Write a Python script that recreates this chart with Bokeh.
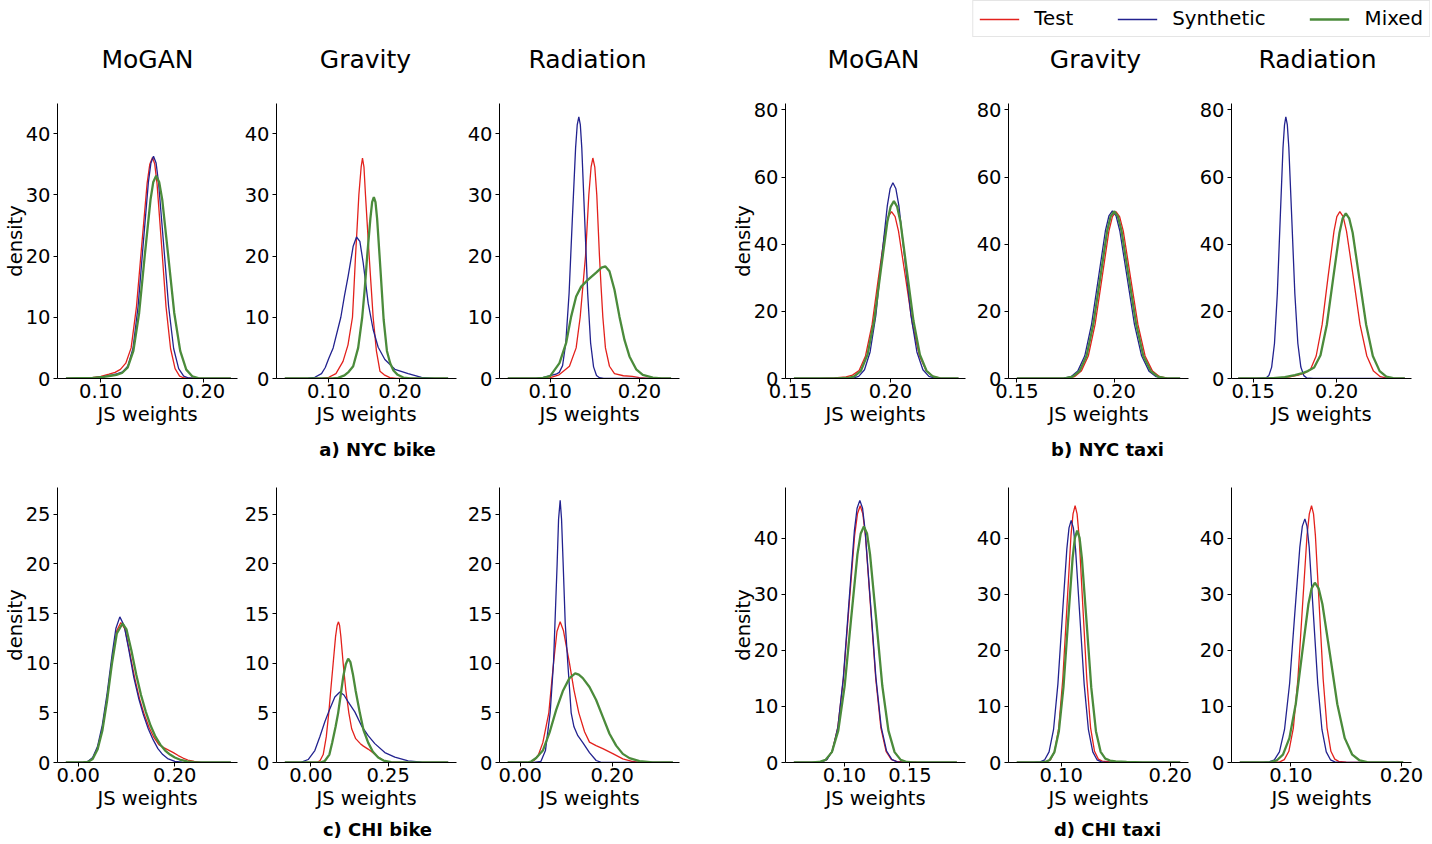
from bokeh.plotting import figure
from bokeh.models import Range1d, FixedTicker, PrintfTickFormatter, Legend, LegendItem
from bokeh.core.properties import value
from bokeh.layouts import column, row
from bokeh.embed import file_html
from bokeh.resources import INLINE

# ---------------- data (x = JS weight, y = density) ----------------
nyc_bike_mogan_test = [(0.066,0),(0.090,0.1),(0.100,0.35),(0.108,0.7),(0.1139,1.0),(0.1191,1.5),(0.1243,2.5),(0.1295,5.0),(0.1347,11.7),(0.1399,21.9),(0.1451,31.9),(0.1477,35.0),(0.1503,36.1),(0.1525,35.0),(0.1547,31.9),(0.1591,21.9),(0.1635,11.7),(0.1679,4.9),(0.1723,1.6),(0.1767,0.4),(0.1811,0.08),(0.19,0),(0.2266,0)]
nyc_bike_mogan_synthetic = [(0.066,0),(0.092,0.1),(0.103,0.3),(0.1113,0.6),(0.1163,0.8),(0.1213,1.1),(0.1263,2.0),(0.1313,4.9),(0.1363,11.8),(0.1413,22.0),(0.1463,32.0),(0.1488,35.2),(0.1513,36.3),(0.1538,35.2),(0.1562,32.0),(0.1611,22.0),(0.166,11.8),(0.1709,4.9),(0.1758,1.6),(0.1807,0.4),(0.1856,0.08),(0.195,0),(0.2266,0)]
nyc_bike_mogan_mixed = [(0.066,0),(0.092,0.08),(0.103,0.25),(0.1096,0.45),(0.1151,0.6),(0.1206,0.9),(0.1262,1.8),(0.1317,4.5),(0.1373,10.7),(0.1428,20.1),(0.1484,29.2),(0.1511,32.1),(0.1539,33.1),(0.1568,32.1),(0.1598,29.2),(0.1656,20.1),(0.1715,10.7),(0.1773,4.5),(0.1832,1.45),(0.189,0.37),(0.1949,0.07),(0.205,0),(0.2266,0)]

nyc_bike_gravity_test = [(0.038,0),(0.09,0),(0.1,0.2),(0.11,0.8),(0.12,2.8),(0.127,5.5),(0.1333,10),(0.1355,15),(0.1376,20),(0.14,25),(0.1423,30),(0.1455,34.5),(0.1474,36),(0.1495,34.5),(0.1516,30),(0.1542,25),(0.1568,20),(0.1596,15),(0.1624,10),(0.167,4.5),(0.172,1.2),(0.178,0.6),(0.186,0.15),(0.195,0),(0.268,0)]
nyc_bike_gravity_synthetic = [(0.038,0),(0.065,0),(0.0709,0.05),(0.0803,0.2),(0.0897,0.8),(0.095,1.8),(0.1,3.3),(0.1061,5),(0.1169,10),(0.122,13.5),(0.1272,16.7),(0.1343,21.6),(0.139,23.1),(0.1437,22.4),(0.1484,18.9),(0.1554,12.3),(0.1624,8),(0.1695,5.1),(0.1789,3.1),(0.193,1.5),(0.2117,0.8),(0.2305,0.2),(0.2493,0.03),(0.268,0)]
nyc_bike_gravity_mixed = [(0.038,0),(0.105,0),(0.113,0.1),(0.122,0.5),(0.128,1.1),(0.1343,2),(0.1413,5),(0.147,10),(0.1507,14.8),(0.154,20),(0.1585,26.1),(0.161,28.8),(0.1634,29.6),(0.1657,28.8),(0.168,26.1),(0.1726,18),(0.1772,9.6),(0.1818,4.5),(0.1864,2.5),(0.191,1.3),(0.197,0.6),(0.205,0.15),(0.215,0),(0.268,0)]

nyc_bike_radiation_test = [(0.0526,0),(0.09,0),(0.1,0.15),(0.11,0.6),(0.1216,2),(0.1291,5),(0.1336,10),(0.1366,15),(0.1396,20),(0.1433,30),(0.1458,34.5),(0.1478,36),(0.15,34.5),(0.1522,30),(0.1552,20),(0.157,15),(0.159,10),(0.1619,5),(0.1664,2),(0.172,0.8),(0.182,0.45),(0.192,0.35),(0.2,0.15),(0.21,0.03),(0.22,0),(0.2354,0)]
nyc_bike_radiation_synthetic = [(0.0526,0),(0.084,0),(0.092,0.15),(0.1,0.45),(0.1066,0.7),(0.1102,1.0),(0.1139,2.1),(0.1175,5.8),(0.1212,13.9),(0.1248,25.9),(0.1285,37.7),(0.1303,41.4),(0.1321,42.7),(0.1338,41.4),(0.1354,37.7),(0.1387,25.9),(0.142,13.9),(0.1453,5.8),(0.1486,1.9),(0.1519,0.5),(0.1552,0.12),(0.16,0.02),(0.165,0),(0.2354,0)]
nyc_bike_radiation_mixed = [(0.0526,0),(0.085,0),(0.092,0.1),(0.1,0.4),(0.1104,2.5),(0.1179,5.8),(0.1235,10.1),(0.1291,13.4),(0.1347,15.0),(0.1422,16.1),(0.1515,17.3),(0.1575,18.1),(0.1619,18.3),(0.1664,17.5),(0.172,14.5),(0.1776,10.1),(0.1832,6.3),(0.1888,3.6),(0.1963,1.5),(0.2037,0.6),(0.2149,0.15),(0.225,0.02),(0.2354,0)]

nyc_taxi_mogan_test = [(0.1517,0),(0.16,0.02),(0.165,0.05),(0.172,0.15),(0.1778,0.45),(0.181,1.0),(0.1843,2.4),(0.1875,6.7),(0.1908,16.1),(0.194,30.1),(0.1973,43.9),(0.1989,48.2),(0.2005,49.7),(0.2023,48.2),(0.204,43.9),(0.2075,30.1),(0.211,16.1),(0.2145,6.7),(0.218,2.2),(0.2215,0.55),(0.225,0.11),(0.23,0.01),(0.234,0)]
nyc_taxi_mogan_synthetic = [(0.1517,0),(0.175,0),(0.1813,0.13),(0.1841,0.65),(0.187,2.6),(0.1898,7.9),(0.1927,18.9),(0.1955,35.4),(0.1984,51.4),(0.1998,56.5),(0.2012,58.3),(0.2027,56.5),(0.2042,51.4),(0.2072,35.4),(0.2102,18.9),(0.2132,7.9),(0.2162,2.6),(0.2192,0.65),(0.2222,0.13),(0.228,0),(0.234,0)]
nyc_taxi_mogan_mixed = [(0.1517,0),(0.172,0),(0.1786,0.15),(0.1819,0.6),(0.1852,2.3),(0.1885,7.1),(0.1918,17.1),(0.1951,32.0),(0.1984,46.6),(0.2001,51.2),(0.2017,52.8),(0.2033,51.2),(0.205,46.6),(0.2082,32.0),(0.2115,17.1),(0.2147,7.1),(0.218,2.3),(0.2212,0.6),(0.2245,0.12),(0.229,0),(0.234,0)]

nyc_taxi_gravity_test = [(0.15,0),(0.167,0),(0.176,0.11),(0.1796,0.55),(0.1831,2.2),(0.1867,6.7),(0.1902,16.1),(0.1938,30.1),(0.1973,43.9),(0.1991,48.2),(0.2009,49.7),(0.2028,48.2),(0.2047,43.9),(0.2084,30.1),(0.2122,16.1),(0.2159,6.7),(0.2197,2.2),(0.2234,0.55),(0.2272,0.11),(0.232,0),(0.2339,0)]
nyc_taxi_gravity_synthetic = [(0.15,0),(0.165,0),(0.1742,0.11),(0.1778,0.55),(0.1813,2.2),(0.1849,6.75),(0.1884,16.2),(0.192,30.3),(0.1955,44.0),(0.1973,48.4),(0.1991,49.9),(0.201,48.4),(0.2029,44.0),(0.2066,30.3),(0.2104,16.2),(0.2141,6.75),(0.2179,2.2),(0.2216,0.55),(0.2254,0.11),(0.23,0),(0.2339,0)]
nyc_taxi_gravity_mixed = [(0.15,0),(0.166,0),(0.1751,0.11),(0.1787,0.55),(0.1822,2.2),(0.1858,6.7),(0.1893,16.2),(0.1929,30.2),(0.1964,43.9),(0.1982,48.3),(0.2,49.8),(0.2019,48.3),(0.2038,43.9),(0.2075,30.2),(0.2113,16.2),(0.215,6.7),(0.2188,2.2),(0.2225,0.55),(0.2263,0.11),(0.231,0),(0.2339,0)]

nyc_taxi_radiation_test = [(0.141,0),(0.155,0),(0.165,0.15),(0.172,0.5),(0.177,1.0),(0.1807,1.6),(0.1843,2.6),(0.1878,6.7),(0.1914,16.1),(0.1949,30.1),(0.1985,43.9),(0.2002,48.2),(0.202,49.7),(0.204,48.2),(0.206,43.9),(0.2101,30.1),(0.2141,16.1),(0.2182,6.7),(0.2222,2.2),(0.2263,0.55),(0.2303,0.11),(0.236,0),(0.241,0)]
nyc_taxi_radiation_synthetic = [(0.141,0),(0.152,0),(0.1577,0.17),(0.1594,0.86),(0.1611,3.4),(0.1628,10.5),(0.1645,25.3),(0.1662,47.2),(0.1679,68.7),(0.1688,75.5),(0.1696,77.9),(0.1705,75.5),(0.1714,68.7),(0.1732,47.2),(0.175,25.3),(0.1768,10.5),(0.1786,3.4),(0.1804,0.86),(0.1822,0.17),(0.186,0),(0.241,0)]
nyc_taxi_radiation_mixed = [(0.141,0),(0.155,0),(0.162,0.1),(0.169,0.4),(0.175,1.0),(0.179,1.5),(0.1828,2.2),(0.1866,3.3),(0.1904,6.9),(0.1942,16.0),(0.198,29.8),(0.2018,43.4),(0.2037,47.7),(0.2056,49.2),(0.2076,47.7),(0.2097,43.4),(0.2137,29.8),(0.2178,16.0),(0.2218,6.7),(0.2259,2.2),(0.2299,0.55),(0.234,0.11),(0.239,0),(0.241,0)]

chi_bike_mogan_test = [(-0.0255,0),(0.01,0),(0.02,0.08),(0.03,0.4),(0.04,1.4),(0.05,3.4),(0.06,6.6),(0.07,10.3),(0.08,13.3),(0.0883,14.1),(0.097,13.4),(0.107,11.0),(0.117,8.5),(0.127,6.4),(0.137,4.8),(0.147,3.5),(0.157,2.5),(0.167,1.8),(0.177,1.5),(0.187,1.25),(0.197,1.0),(0.207,0.7),(0.217,0.45),(0.227,0.25),(0.24,0.1),(0.255,0.02),(0.27,0),(0.316,0)]
chi_bike_mogan_synthetic = [(-0.0255,0),(0.01,0),(0.02,0.1),(0.03,0.5),(0.04,1.6),(0.05,3.8),(0.06,7.0),(0.07,10.8),(0.078,13.5),(0.0862,14.67),(0.095,13.8),(0.105,11.3),(0.115,8.6),(0.125,6.5),(0.135,4.8),(0.145,3.4),(0.155,2.3),(0.165,1.4),(0.175,0.8),(0.185,0.4),(0.2,0.12),(0.215,0.03),(0.23,0),(0.316,0)]
chi_bike_mogan_mixed = [(-0.0255,0),(0.01,0),(0.02,0.06),(0.03,0.35),(0.04,1.3),(0.05,3.2),(0.06,6.3),(0.07,10.0),(0.08,13.0),(0.0917,14.0),(0.1,13.4),(0.11,11.3),(0.12,8.9),(0.13,6.8),(0.14,5.1),(0.15,3.7),(0.16,2.6),(0.17,1.8),(0.18,1.2),(0.19,0.8),(0.2,0.5),(0.21,0.3),(0.225,0.12),(0.24,0.04),(0.26,0),(0.316,0)]

chi_bike_gravity_test = [(-0.084,0),(0.02,0),(0.03,0.2),(0.04,0.8),(0.05,2.6),(0.058,5),(0.065,7.5),(0.0722,10),(0.08,12.7),(0.085,13.8),(0.0894,14.17),(0.093,13.8),(0.097,12.7),(0.1045,10),(0.113,7.3),(0.1228,5),(0.132,3.4),(0.145,2.4),(0.16,1.9),(0.17,1.65),(0.185,1.35),(0.2,1.0),(0.215,0.6),(0.23,0.3),(0.24,0.15),(0.255,0.02),(0.27,0),(0.444,0)]
chi_bike_gravity_synthetic = [(-0.084,0),(-0.0302,0.03),(-0.0086,0.3),(0.0129,1.2),(0.0291,2.6),(0.0453,4.1),(0.0614,5.4),(0.0776,6.6),(0.0938,7.1),(0.107,6.8),(0.1207,6.1),(0.1422,5.1),(0.1638,3.7),(0.1853,2.7),(0.2069,1.9),(0.2392,1.0),(0.2716,0.54),(0.3147,0.17),(0.3578,0.03),(0.38,0),(0.444,0)]
chi_bike_gravity_mixed = [(-0.084,0),(0.03,0),(0.045,0.15),(0.06,0.8),(0.069,2),(0.08,3.6),(0.0884,5),(0.097,6.9),(0.105,8.7),(0.113,9.9),(0.1207,10.46),(0.128,10.1),(0.136,8.9),(0.145,7.2),(0.1584,5),(0.17,3.3),(0.1853,2),(0.2,1.1),(0.2177,0.5),(0.235,0.2),(0.26,0.04),(0.3,0),(0.444,0)]

chi_bike_radiation_test = [(-0.027,0),(0.02,0),(0.03,0.2),(0.04,0.8),(0.0493,2),(0.0623,5),(0.0725,10),(0.08,13.2),(0.087,14.17),(0.094,13.3),(0.1,11.8),(0.1072,10),(0.117,7.3),(0.1275,5),(0.14,3.1),(0.1507,2.05),(0.165,1.7),(0.1797,1.4),(0.2014,0.9),(0.2232,0.37),(0.2449,0.1),(0.26,0),(0.332,0)]
chi_bike_radiation_synthetic = [(-0.027,0),(0.03,0),(0.045,0.1),(0.055,1.2),(0.0652,5),(0.0725,10),(0.0804,20),(0.0835,24.5),(0.087,26.4),(0.09,24.5),(0.0935,20),(0.098,14),(0.1036,10),(0.1109,5),(0.117,3.6),(0.1254,2.7),(0.1362,2.0),(0.1507,1.0),(0.1652,0.2),(0.175,0.03),(0.185,0),(0.332,0)]
chi_bike_radiation_mixed = [(-0.027,0),(0.015,0),(0.0239,0.1),(0.0348,0.45),(0.0493,1.2),(0.0638,3.0),(0.0783,5.3),(0.0928,7.2),(0.1072,8.5),(0.1196,8.98),(0.1275,8.85),(0.1362,8.5),(0.1507,7.6),(0.1652,6.3),(0.1797,4.6),(0.1942,2.9),(0.2087,1.7),(0.2232,0.87),(0.2377,0.44),(0.2594,0.13),(0.2884,0.02),(0.31,0),(0.332,0)]

chi_taxi_mogan_test = [(0.0612,0),(0.077,0),(0.0819,0.1),(0.0862,0.51),(0.0905,2.0),(0.0948,6.2),(0.0991,14.9),(0.1034,27.8),(0.1077,40.5),(0.1099,44.4),(0.112,45.85),(0.114,44.4),(0.116,40.5),(0.1199,27.8),(0.1239,14.9),(0.1278,6.2),(0.1318,2.0),(0.1357,0.55),(0.1397,0.2),(0.145,0.1),(0.155,0.05),(0.165,0.02),(0.186,0)]
chi_taxi_mogan_synthetic = [(0.0612,0),(0.078,0),(0.0823,0.1),(0.0865,0.52),(0.0907,2.05),(0.0949,6.3),(0.0991,15.2),(0.1033,28.4),(0.1075,41.3),(0.1096,45.4),(0.1117,46.8),(0.1138,45.4),(0.1158,41.3),(0.1199,28.4),(0.124,15.2),(0.1281,6.3),(0.1322,2.05),(0.1363,0.52),(0.1404,0.1),(0.145,0),(0.186,0)]
chi_taxi_mogan_mixed = [(0.0612,0),(0.075,0),(0.0805,0.09),(0.0854,0.47),(0.0903,1.85),(0.0952,5.7),(0.1001,13.7),(0.105,25.6),(0.1099,37.2),(0.1124,40.9),(0.1148,42.15),(0.1172,40.9),(0.1195,37.2),(0.1242,25.6),(0.1289,13.7),(0.1336,5.7),(0.1383,1.85),(0.143,0.47),(0.1477,0.09),(0.153,0),(0.186,0)]

chi_taxi_gravity_test = [(0.0593,0),(0.08,0),(0.0865,0.1),(0.0903,0.51),(0.094,2.0),(0.0978,6.2),(0.1015,14.9),(0.1053,27.8),(0.109,40.5),(0.1109,44.4),(0.1128,45.85),(0.1146,44.4),(0.1164,40.5),(0.1199,27.8),(0.1235,14.9),(0.127,6.2),(0.1306,2.0),(0.1341,0.6),(0.1377,0.25),(0.145,0.1),(0.16,0.03),(0.2092,0)]
chi_taxi_gravity_synthetic = [(0.0593,0),(0.075,0),(0.0808,0.1),(0.0849,0.48),(0.0889,1.9),(0.093,5.85),(0.097,14.0),(0.1011,26.2),(0.1052,38.1),(0.1072,41.9),(0.1092,43.2),(0.1112,41.9),(0.1132,38.1),(0.1171,26.2),(0.1211,14.0),(0.125,5.85),(0.129,1.9),(0.1329,0.48),(0.1369,0.1),(0.142,0),(0.2092,0)]
chi_taxi_gravity_mixed = [(0.0593,0),(0.08,0),(0.0853,0.09),(0.0895,0.46),(0.0937,1.8),(0.0979,5.6),(0.1021,13.4),(0.1063,25.1),(0.1105,36.5),(0.1126,40.1),(0.1147,41.4),(0.1169,40.1),(0.119,36.5),(0.1233,25.1),(0.1276,13.4),(0.1319,5.6),(0.1362,1.9),(0.1405,0.7),(0.1448,0.35),(0.15,0.2),(0.16,0.1),(0.175,0.03),(0.19,0),(0.2092,0)]

chi_taxi_radiation_test = [(0.0539,0),(0.085,0),(0.09,0.1),(0.0941,0.51),(0.0982,2.0),(0.1023,6.2),(0.1064,14.9),(0.1105,27.8),(0.1146,40.5),(0.1167,44.4),(0.1187,45.85),(0.1205,44.4),(0.1222,40.5),(0.1257,27.8),(0.1292,14.9),(0.1327,6.2),(0.1362,2.0),(0.1397,0.6),(0.1432,0.2),(0.15,0.05),(0.16,0),(0.2015,0)]
chi_taxi_radiation_synthetic = [(0.0539,0),(0.075,0),(0.0805,0.1),(0.0851,0.48),(0.0897,1.9),(0.0943,5.9),(0.0989,14.1),(0.1035,26.4),(0.1081,38.4),(0.1104,42.2),(0.1127,43.5),(0.1146,42.2),(0.1166,38.4),(0.1204,26.4),(0.1243,14.1),(0.1281,5.9),(0.132,1.9),(0.1358,0.48),(0.1397,0.1),(0.145,0),(0.2015,0)]
chi_taxi_radiation_mixed = [(0.0539,0),(0.075,0),(0.0814,0.07),(0.0872,0.36),(0.0929,1.4),(0.0987,4.35),(0.1044,10.4),(0.1102,19.5),(0.1159,28.3),(0.1188,31.1),(0.1217,32.1),(0.1251,31.1),(0.1285,28.3),(0.1352,19.5),(0.142,10.4),(0.1487,4.35),(0.1555,1.4),(0.1622,0.36),(0.169,0.07),(0.176,0),(0.2015,0)]

series_names = ["Test", "Synthetic", "Mixed"]
method_titles = ["MoGAN", "Gravity", "Radiation"]
group_captions = ["a) NYC bike", "b) NYC taxi", "c) CHI bike", "d) CHI taxi"]

# ---------------- styling / layout ----------------
FONT = "DejaVu Sans"
COLORS = {"Test": "#e3211c", "Synthetic": "#22228f", "Mixed": "#4b8b3b"}
WIDTHS = {"Test": 1.3, "Synthetic": 1.3, "Mixed": 2.3}

FW, FH = 180, 275
LEFT_B = [57, 34, 34, 57, 34, 34]
RIGHT_B = [4, 8, 49, 8, 8, 23]
W = sum(LEFT_B) + sum(RIGHT_B) + 6 * FW
frame_left = []
_x = 0
for _c in range(6):
    _x += LEFT_B[_c]
    frame_left.append(_x)
    _x += FW + RIGHT_B[_c]

HDR_H = 82
CAP1_H, CAP2_H = 45, 25

rows_cfg = [
    dict(top=21, bottom=54, groups=[
        dict(curves=[(nyc_bike_mogan_test, nyc_bike_mogan_synthetic, nyc_bike_mogan_mixed),
                     (nyc_bike_gravity_test, nyc_bike_gravity_synthetic, nyc_bike_gravity_mixed),
                     (nyc_bike_radiation_test, nyc_bike_radiation_synthetic, nyc_bike_radiation_mixed)],
             xr=[(0.0578, 0.2331), (0.0263, 0.2798), (0.0433, 0.2448)],
             xt=[[0.10, 0.20], [0.10, 0.20], [0.10, 0.20]],
             yr=(0, 44.9), yt=[0, 10, 20, 30, 40]),
        dict(curves=[(nyc_taxi_mogan_test, nyc_taxi_mogan_synthetic, nyc_taxi_mogan_mixed),
                     (nyc_taxi_gravity_test, nyc_taxi_gravity_synthetic, nyc_taxi_gravity_mixed),
                     (nyc_taxi_radiation_test, nyc_taxi_radiation_synthetic, nyc_taxi_radiation_mixed)],
             xr=[(0.1475, 0.2375), (0.1457, 0.2382), (0.137, 0.245)],
             xt=[[0.15, 0.20], [0.15, 0.20], [0.15, 0.20]],
             yr=(0, 81.9), yt=[0, 20, 40, 60, 80]),
    ]),
    dict(top=10, bottom=54, groups=[
        dict(curves=[(chi_bike_mogan_test, chi_bike_mogan_synthetic, chi_bike_mogan_mixed),
                     (chi_bike_gravity_test, chi_bike_gravity_synthetic, chi_bike_gravity_mixed),
                     (chi_bike_radiation_test, chi_bike_radiation_synthetic, chi_bike_radiation_mixed)],
             xr=[(-0.0428, 0.3297), (-0.111, 0.4709), (-0.0449, 0.3464)],
             xt=[[0.00, 0.20], [0.00, 0.25], [0.00, 0.20]],
             yr=(0, 27.7), yt=[0, 5, 10, 15, 20, 25]),
        dict(curves=[(chi_taxi_mogan_test, chi_taxi_mogan_synthetic, chi_taxi_mogan_mixed),
                     (chi_taxi_gravity_test, chi_taxi_gravity_synthetic, chi_taxi_gravity_mixed),
                     (chi_taxi_radiation_test, chi_taxi_radiation_synthetic, chi_taxi_radiation_mixed)],
             xr=[(0.0548, 0.1926), (0.0517, 0.2168), (0.0464, 0.209)],
             xt=[[0.10, 0.15], [0.10, 0.20], [0.10, 0.20]],
             yr=(0, 49.1), yt=[0, 10, 20, 30, 40]),
    ]),
]


def style_axes(p, ylabel):
    for ax in (p.xaxis[0], p.yaxis[0]):
        ax.axis_line_color = "black"
        ax.axis_line_width = 1
        ax.major_tick_line_color = "black"
        ax.major_tick_line_width = 1
        ax.major_tick_in = 0
        ax.major_tick_out = 4
        ax.minor_tick_line_color = None
        ax.major_label_text_font = FONT
        ax.major_label_text_font_size = "19.5px"
        ax.major_label_text_color = "black"
        ax.axis_label_text_font = FONT
        ax.axis_label_text_font_size = "19.5px"
        ax.axis_label_text_font_style = "normal"
        ax.axis_label_text_color = "black"
    xa = p.xaxis[0]
    xa.axis_label = "JS weights"
    xa.major_label_standoff = 1
    xa.axis_label_standoff = 2
    ya = p.yaxis[0]
    ya.major_label_standoff = 3
    ya.axis_label_standoff = -4
    if ylabel:
        ya.axis_label = "density"


def make_panel(curves, xr, xt, yr, yt, col, top, bottom, ylabel):
    p = figure(frame_width=FW, frame_height=FH,
               x_range=Range1d(*xr), y_range=Range1d(*yr),
               min_border_left=LEFT_B[col], min_border_right=RIGHT_B[col],
               min_border_top=top, min_border_bottom=bottom,
               output_backend="svg", toolbar_location=None, title=None,
               outline_line_color=None, background_fill_color="white",
               border_fill_color="white")
    p.xgrid.visible = False
    p.ygrid.visible = False
    for name, pts in zip(series_names, curves):
        p.line([a for a, _ in pts], [b for _, b in pts],
               line_color=COLORS[name], line_width=WIDTHS[name])
    style_axes(p, ylabel)
    p.xaxis[0].ticker = FixedTicker(ticks=xt)
    p.xaxis[0].formatter = PrintfTickFormatter(format="%.2f")
    p.yaxis[0].ticker = FixedTicker(ticks=yt)
    return p


def strip(height):
    s = figure(width=W, height=height, x_range=Range1d(0, W), y_range=Range1d(height, 0),
               x_axis_type=None, y_axis_type=None, output_backend="svg",
               toolbar_location=None, min_border=0, outline_line_color=None, title=None,
               background_fill_color="white", border_fill_color="white")
    return s


# header: legend + column titles
hdr = strip(HDR_H)
hdr.text(x=[fl + FW / 2 for fl in frame_left], y=[59] * 6, text=method_titles * 2,
         text_align="center", text_baseline="middle", text_font=value(FONT),
         text_font_size="25px", text_color="black")
items = []
for name in series_names:
    r = hdr.line(x=[-100, -90], y=[-100, -90], line_color=COLORS[name], line_width=WIDTHS[name])
    items.append(LegendItem(label=name, renderers=[r]))
legend = Legend(items=items, orientation="horizontal", location="top_right",
                label_text_font=FONT, label_text_font_size="19.8px", label_text_color="black",
                glyph_width=40, glyph_height=20, label_standoff=15, spacing=44,
                padding=6, margin=0, border_line_color="#cccccc", border_line_width=1,
                background_fill_color="white", background_fill_alpha=1.0)
hdr.add_layout(legend)

cap_x = [frame_left[1] + FW / 2 + 12, frame_left[4] + FW / 2 + 12]

cap1 = strip(CAP1_H)
cap1.text(x=cap_x, y=[17, 17], text=group_captions[0:2], text_align="center",
          text_baseline="middle", text_font=value(FONT), text_font_size="18px",
          text_font_style="bold", text_color="black")
cap2 = strip(CAP2_H)
cap2.text(x=cap_x, y=[13, 13], text=group_captions[2:4], text_align="center",
          text_baseline="middle", text_font=value(FONT), text_font_size="18px",
          text_font_style="bold", text_color="black")

panel_rows = []
for rc in rows_cfg:
    figs = []
    col = 0
    for g in rc["groups"]:
        for i in range(3):
            figs.append(make_panel(g["curves"][i], g["xr"][i], g["xt"][i], g["yr"], g["yt"],
                                   col, rc["top"], rc["bottom"], i == 0))
            col += 1
    panel_rows.append(row(*figs))

page = column(hdr, panel_rows[0], cap1, panel_rows[1], cap2)
open("out.html", "w").write(file_html(page, INLINE))
